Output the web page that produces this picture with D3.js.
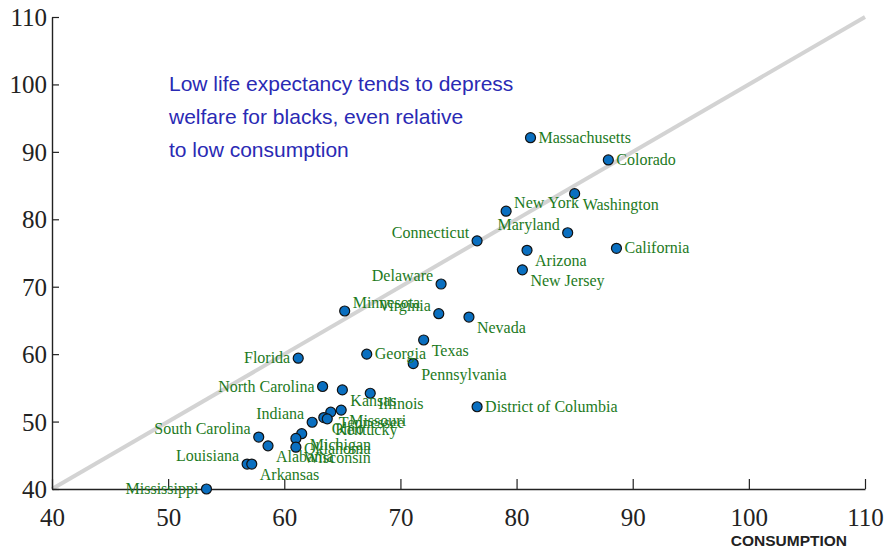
<!DOCTYPE html>
<html>
<head>
<meta charset="utf-8">
<script src="https://cdn.jsdelivr.net/npm/d3@7"></script>
<style>
  html, body { margin: 0; padding: 0; background: #fff; }
  svg { display: block; }
  .tick text { font-family: "Liberation Serif", "Times New Roman", serif; font-size: 25px; fill: #222; }
  .state-label { font-family: "Liberation Serif", "Times New Roman", serif; font-size: 16px; fill: #1d7a1d; }
  .note { font-family: "Liberation Sans", Arial, Helvetica, sans-serif; font-size: 21px; fill: #2a2ab4; }
  .xtitle { font-family: "Liberation Sans", Arial, Helvetica, sans-serif; font-size: 15.5px; font-weight: bold; fill: #222; }
</style>
</head>
<body>
<script>
// States: consumption (x) vs. welfare (y), black population
const states = ["Massachusetts", "Colorado", "Washington", "New York", "Maryland", "Connecticut",
  "California", "Arizona", "New Jersey", "Delaware", "Minnesota", "Virginia", "Nevada", "Texas",
  "Florida", "Georgia", "Pennsylvania", "North Carolina", "Kansas", "Illinois", "District of Columbia",
  "Missouri", "Tennessee", "Ohio", "Kentucky", "Indiana", "Michigan", "Oklahoma", "Wisconsin",
  "Alabama", "South Carolina", "Louisiana", "Arkansas", "Mississippi"];
const consumption = [81.2, 87.9, 85.0, 79.1, 84.4, 76.6,
  88.6, 80.9, 80.5, 73.5, 65.2, 73.3, 75.9, 72.0,
  61.2, 67.1, 71.1, 63.3, 65.0, 67.4, 76.6,
  64.9, 64.0, 63.4, 63.7, 62.4, 61.5, 61.0, 61.0,
  58.6, 57.8, 56.8, 57.2, 53.3];
const welfare = [92.1, 88.8, 83.8, 81.2, 78.0, 76.8,
  75.7, 75.4, 72.5, 70.4, 66.4, 66.0, 65.5, 62.1,
  59.4, 60.0, 58.6, 55.2, 54.7, 54.2, 52.2,
  51.7, 51.4, 50.6, 50.4, 49.9, 48.2, 47.5, 46.2,
  46.4, 47.7, 43.7, 43.7, 40.0];
const xTicks = [40, 50, 60, 70, 80, 90, 100, 110];
const yTicks = [40, 50, 60, 70, 80, 90, 100, 110];
const noteLines = ["Low life expectancy tends to depress", "welfare for blacks, even relative", "to low consumption"];
const xTitle = "CONSUMPTION";

// Label placement around each marker: r, l, tr, tl, br
const placement = {
  "Massachusetts": "r", "Colorado": "r", "Washington": "br", "New York": "tr", "Maryland": "tl",
  "Connecticut": "tl", "California": "r", "Arizona": "br", "New Jersey": "br", "Delaware": "tl",
  "Minnesota": "tr", "Virginia": "tl", "Nevada": "br", "Texas": "br", "Florida": "l", "Georgia": "r",
  "Pennsylvania": "br", "North Carolina": "l", "Kansas": "br", "Illinois": "br",
  "District of Columbia": "r", "Missouri": "br", "Tennessee": "br", "Ohio": "br", "Kentucky": "br",
  "Indiana": "tl", "Michigan": "br", "Oklahoma": "br", "Wisconsin": "br", "Alabama": "br",
  "South Carolina": "tl", "Louisiana": "tl", "Arkansas": "br", "Mississippi": "l"
};

const W = 885, H = 548;
const margin = { top: 17, right: 20, bottom: 59, left: 52 };

const svg = d3.select("body").append("svg").attr("width", W).attr("height", H);

const x = d3.scaleLinear().domain([40, 110]).range([margin.left, W - margin.right]);
const y = d3.scaleLinear().domain([40, 110]).range([H - margin.bottom, margin.top]);

// 45-degree reference line
svg.append("line")
  .attr("x1", x(40)).attr("y1", y(40))
  .attr("x2", x(110)).attr("y2", y(110))
  .attr("stroke", "#d3d3d3").attr("stroke-width", 4);

// Axes with inward ticks
const xAxis = svg.append("g")
  .attr("transform", `translate(0,${y(40)})`)
  .call(d3.axisBottom(x).tickValues(xTicks).tickSizeInner(-10).tickSizeOuter(0).tickPadding(14));
const yAxis = svg.append("g")
  .attr("transform", `translate(${x(40)},0)`)
  .call(d3.axisLeft(y).tickValues(yTicks).tickSizeInner(-7).tickSizeOuter(0).tickPadding(5));
[xAxis, yAxis].forEach(g => {
  g.select(".domain").attr("stroke", "#222").attr("stroke-width", 1.4);
  g.selectAll(".tick line").attr("stroke", "#222").attr("stroke-width", 1.2);
});
xAxis.selectAll(".tick text").attr("dy", "0.9em");
yAxis.selectAll(".tick text").attr("dy", "0.34em");

svg.append("text").attr("class", "xtitle")
  .attr("x", 847).attr("y", 546).attr("text-anchor", "end").text(xTitle);

// Annotation
svg.append("g").selectAll("text").data(noteLines).join("text")
  .attr("class", "note")
  .attr("x", 169).attr("y", (d, i) => 91 + i * 33)
  .text(d => d);

const data = states.map((s, i) => ({ name: s, cx: consumption[i], wf: welfare[i] }));

const offsets = {
  r:  { dx: 8,  dy: 5,  anchor: "start" },
  l:  { dx: -8, dy: 5,  anchor: "end" },
  tr: { dx: 8,  dy: -3, anchor: "start" },
  tl: { dx: -8, dy: -3, anchor: "end" },
  br: { dx: 8,  dy: 16, anchor: "start" }
};

// Markers
svg.append("g").selectAll("circle").data(data).join("circle")
  .attr("cx", d => x(d.cx)).attr("cy", d => y(d.wf)).attr("r", 5)
  .attr("fill", "#0a6fc0").attr("stroke", "#111").attr("stroke-width", 1.2);

// Labels
svg.append("g").selectAll("text").data(data).join("text")
  .attr("class", "state-label")
  .attr("x", d => x(d.cx) + offsets[placement[d.name]].dx)
  .attr("y", d => y(d.wf) + offsets[placement[d.name]].dy)
  .attr("text-anchor", d => offsets[placement[d.name]].anchor)
  .text(d => d.name);
</script>
</body>
</html>
